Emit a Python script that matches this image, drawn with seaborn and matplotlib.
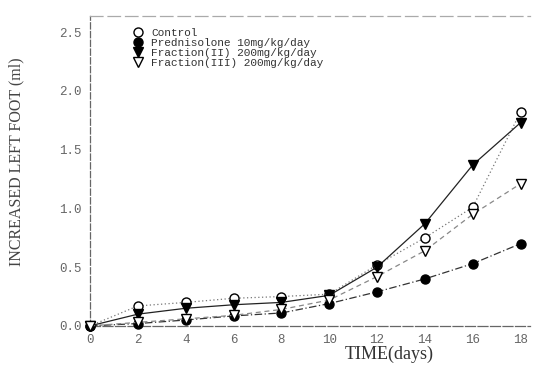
import numpy as np
import pandas as pd
import seaborn as sns
import matplotlib.pyplot as plt

# values
days = [0, 2, 4, 6, 8, 10, 12, 14, 16, 18]
control = [0.0, 0.17, 0.20, 0.235, 0.25, 0.27, 0.52, 0.75, 1.01, 1.82]
prednisolone = [0.0, 0.02, 0.05, 0.085, 0.11, 0.19, 0.29, 0.40, 0.53, 0.70]
fraction2 = [0.0, 0.10, 0.15, 0.18, 0.20, 0.26, 0.50, 0.87, 1.37, 1.73]
fraction3 = [0.0, 0.03, 0.06, 0.09, 0.14, 0.22, 0.42, 0.64, 0.95, 1.21]

labels = ["Control", "Prednisolone 10mg/kg/day",
          "Fraction(II) 200mg/kg/day", "Fraction(III) 200mg/kg/day"]
y_ticks = [0.0, 0.5, 1.0, 1.5, 2.0, 2.5]
x_ticks = days

sns.set_style("white")
plt.rcParams['font.family'] = ['Liberation Serif', 'DejaVu Serif']

fig = plt.figure(figsize=(5.36, 3.67), dpi=100)
ax = fig.add_axes([0.168, 0.112, 0.821, 0.845])

series = [
    (control, labels[0], "o", "white", (0, (1, 2)), "#777777"),
    (prednisolone, labels[1], "o", "black", (0, (6, 2, 1, 2)), "#333333"),
    (fraction2, labels[2], "v", "black", "-", "#222222"),
    (fraction3, labels[3], "v", "white", (0, (4, 3)), "#888888"),
]
for vals, lab, mk, fc, ls, lc in series:
    sns.lineplot(x=days, y=vals, ax=ax, label=lab, color=lc, linestyle=ls,
                 linewidth=0.9, marker=mk, markersize=6.5, mfc=fc, mec="black",
                 mew=1.0, clip_on=False, zorder=3)

ax.set_xlim(0, 18.4)
ax.set_ylim(0, 2.64)
ax.set_xticks(x_ticks)
ax.set_yticks(y_ticks)
ax.set_yticklabels([f"{v:.1f}" for v in y_ticks])
ax.tick_params(direction="in", length=3, width=0.8, color="#555555",
               labelcolor="#666666", labelsize=9, pad=6)
for t in ax.get_xticklabels() + ax.get_yticklabels():
    t.set_family("Liberation Mono")

for side in ["left", "bottom", "top"]:
    ax.spines[side].set_color("#666666")
    ax.spines[side].set_linewidth(0.9)
ax.spines["left"].set_linestyle((0, (5, 2)))
ax.spines["bottom"].set_linestyle((0, (8, 2)))
ax.spines["top"].set_linestyle((0, (10, 4)))
ax.spines["top"].set_color("#aaaaaa")
ax.spines["right"].set_visible(False)

ax.set_ylabel("INCREASED LEFT FOOT (ml)", fontsize=11.5, color="#444444")
ax.yaxis.set_label_coords(-0.15, 0.53)
ax.set_xlabel("TIME(days)", fontsize=13, color="#333333")
ax.xaxis.set_label_coords(0.68, -0.065)

leg = ax.legend(loc="upper left", bbox_to_anchor=(0.108, 0.96), frameon=False,
                prop={"family": "Liberation Mono", "size": 8},
                labelspacing=0.0, handlelength=0, handletextpad=1.2,
                borderpad=0, borderaxespad=0)
for h in leg.legend_handles:
    h.set_linestyle("none")
for t in leg.get_texts():
    t.set_color("#333333")

fig.savefig("out.png", dpi=100)
